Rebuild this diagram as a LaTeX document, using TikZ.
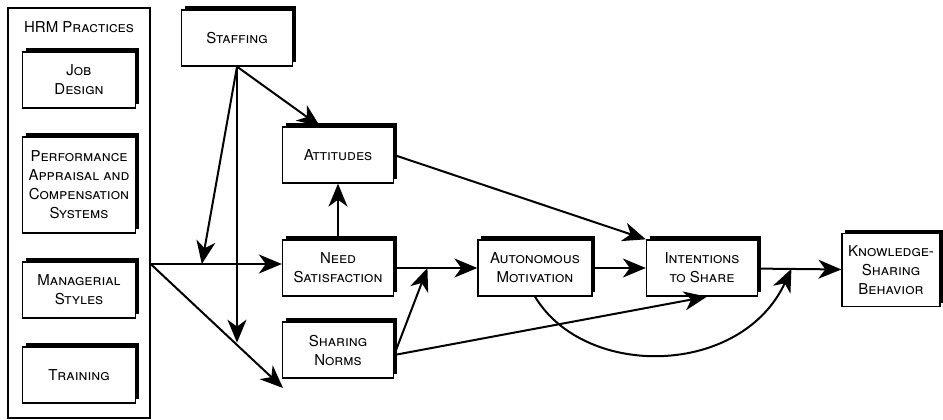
\documentclass[tikz,border=0pt]{standalone}
\usepackage{fontspec}
\setmainfont{TeX Gyre Heros}
\usetikzlibrary{positioning, arrows.meta, shadows, calc}

\begin{document}
\begin{tikzpicture}[
    x=1pt, y=-1pt,
    font=\fontsize{15}{19}\selectfont\scshape,
    box/.style={draw, line width=1.3pt, fill=white, align=center,
      minimum width=111pt, minimum height=56pt, inner sep=2pt,
      general shadow={fill=black, shadow xshift=3pt, shadow yshift=4pt}},
    frame/.style={draw, line width=1.3pt, minimum width=142pt, minimum height=410pt},
    link/.style={-{Stealth[length=23pt, width=19pt, inset=7pt]}, line width=2pt}
  ]
  \useasboundingbox (0,0) rectangle (943,420);

  % HRM practices
  \node[frame] (hrm) at (79,213) {};
  \node (hrmlab) at (79,27) {HRM Practices};
  \node[box, minimum width=113pt] (job) at (79,80) {Job\\Design};
  \node[box, minimum width=113pt, minimum height=96pt] (perf) at (79,185)
    {Performance\\Appraisal and\\Compensation\\Systems};
  \node[box, minimum width=113pt] (mgr) at (79,290) {Managerial\\Styles};
  \node[box, minimum width=113pt] (train) at (79,375) {Training};

  % the model
  \node[box] (staff) at (237,38) {Staffing};
  \node[box] (att) at (338,155) {Attitudes};
  \node[box] (need) at (338,268) {Need\\Satisfaction};
  \node[box] (norms) at (338,350) {Sharing\\Norms};
  \node[box, minimum width=114pt] (auto) at (535,268) {Autonomous\\Motivation};
  \node[box] (intent) at (702,268) {Intentions\\to Share};
  \node[box, minimum width=98pt, minimum height=73pt] (ksb) at (891,270)
    {Knowledge-\\Sharing\\Behavior};

  \coordinate (split) at ($(hrm.east)+(0,51)$);
  \coordinate (hit) at ($(split)!0.39!(need.west |- split)$);
  \coordinate (down) at ($(staff.south)+(0,276)$);
  \coordinate (low) at (283,388);
  \coordinate (nout) at ($(norms.east)+(0,5)$);
  \coordinate (mjoin) at ($(need.east)!0.4!(auto.west)$);
  \coordinate (kjoin) at ($(intent.east)!0.4!(ksb.west)$);

  \draw[link] (staff.south) -- ($(att.north)+(-18,0)$);
  \draw[link] (staff.south) -- (down);
  \draw[link] (staff.south) -- (hit);
  \draw[link] (split) -- (need.west |- split);
  \draw[link] (split) -- (low);
  \draw[link] (need) -- (att);
  \draw[link] (need) -- (auto);
  \draw[link] (nout) -- (mjoin);
  \draw[link] (nout) -- ($(intent.south)+(5,0)$);
  \draw[link] (att.east) -- (intent.north west);
  \draw[link] (auto) -- (intent);
  \draw[link] (intent) -- (ksb);
  \draw[link] (auto.south) .. controls +(50,83) and +(-50,108) .. (kjoin);
\end{tikzpicture}
\end{document}
